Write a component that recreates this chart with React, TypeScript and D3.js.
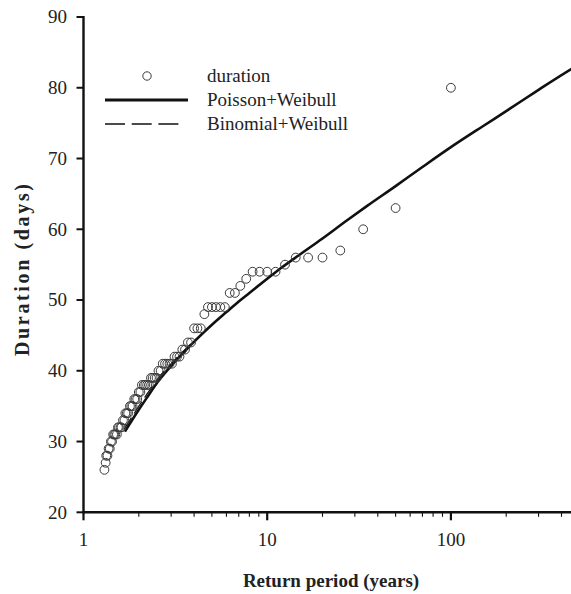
import * as d3 from 'd3'

const WIDTH = 571
const HEIGHT = 594
const FONT = '"Liberation Serif", "Times New Roman", serif'

// Weibull plotting positions (years) and observed durations (days), largest first
const returnPeriods = [
  100, 50, 33.3, 25, 20, 16.7, 14.3, 12.5, 11.1, 10, 9.09, 8.33, 7.69, 7.14, 6.67, 6.25,
  5.88, 5.56, 5.26, 5, 4.76, 4.55, 4.35, 4.17, 4, 3.85, 3.7, 3.57, 3.45, 3.33, 3.23, 3.13,
  3.03, 2.94, 2.86, 2.78, 2.7, 2.63, 2.56, 2.5, 2.44, 2.38, 2.33, 2.27, 2.22, 2.17, 2.13,
  2.08, 2.04, 2, 1.96, 1.92, 1.89, 1.85, 1.82, 1.79, 1.75, 1.72, 1.69, 1.67, 1.64, 1.61,
  1.59, 1.56, 1.54, 1.52, 1.49, 1.47, 1.45, 1.43, 1.41, 1.39, 1.37, 1.35, 1.33, 1.32, 1.3,
]
const durations = [
  80, 63, 60, 57, 56, 56, 56, 55, 54, 54, 54, 54, 53, 52, 51, 51,
  49, 49, 49, 49, 49, 48, 46, 46, 46, 44, 44, 43, 43, 42, 42, 42,
  41, 41, 41, 41, 41, 40, 40, 39, 39, 39, 39, 38, 38, 38, 38,
  38, 37, 37, 36, 36, 36, 35, 35, 35, 34, 34, 34, 33, 33, 32,
  32, 32, 32, 31, 31, 31, 31, 30, 30, 29, 29, 28, 28, 27, 26,
]

// fitted curves
const poissonT = [1.68, 1.9, 2.2, 2.6, 3, 3.6, 4.3, 5, 6, 7, 8, 10, 12, 15, 20, 27, 35, 50, 70, 100, 150, 200, 300, 450, 500]
const poissonD = [31.4, 33.6, 36.1, 38.8, 40.7, 42.9, 44.9, 46.5, 48.3, 49.8, 51.0, 53.0, 54.6, 56.4, 58.7, 61.2, 63.3, 66.1, 68.8, 71.6, 74.6, 76.7, 79.7, 82.6, 83.3]
const binomialT = [1.66, 1.9, 2.2, 2.6, 3, 3.6, 4.3, 5, 6, 7, 8, 10, 12, 15, 20, 27, 35, 50, 70, 100, 150, 200, 300, 450, 500]
const binomialD = [31.7, 34.1, 36.6, 39.2, 41.0, 43.1, 45.0, 46.5, 48.3, 49.8, 51.0, 53.0, 54.6, 56.4, 58.7, 61.2, 63.3, 66.1, 68.8, 71.6, 74.6, 76.7, 79.7, 82.6, 83.3]

const yTicks = [20, 30, 40, 50, 60, 70, 80, 90]
const xLabels = [1, 10, 100]

const X0 = 83.5
const DECADE = 183.7

export default function App() {
  const x = d3.scaleLog().domain([1, 500]).range([X0, X0 + DECADE * Math.log10(500)])
  const y = d3.scaleLinear().domain([20, 90]).range([512.3, 17])

  const line = d3
    .line<[number, number]>()
    .x(d => x(d[0]))
    .y(d => y(d[1]))
    .curve(d3.curveMonotoneX)

  const poisson = poissonT.map((t, i) => [t, poissonD[i]] as [number, number])
  const binomial = binomialT.map((t, i) => [t, binomialD[i]] as [number, number])

  const xTicks = x.ticks()
  const y0 = y(20)

  return (
    <svg
      width={WIDTH}
      height={HEIGHT}
      style={{position: 'absolute', left: 0, top: 0, background: '#fff'}}
      fontFamily={FONT}>
      {/* curves */}
      <path d={line(binomial) || ''} fill="none" stroke="#111" strokeWidth={1.2} strokeDasharray="14,5" />
      <path d={line(poisson) || ''} fill="none" stroke="#111" strokeWidth={2.6} />

      {/* observed points */}
      {returnPeriods.map((t, i) => (
        <circle key={i} cx={x(t)} cy={y(durations[i])} r={4.4} fill="none" stroke="#3a3a3a" strokeWidth={1} />
      ))}

      {/* y axis */}
      <line x1={X0} x2={X0} y1={y(90) - 1} y2={y0 + 1} stroke="#111" strokeWidth={2.4} />
      {yTicks.map(v => (
        <g key={v}>
          <line x1={X0 - 7} x2={X0} y1={y(v)} y2={y(v)} stroke="#111" strokeWidth={2} />
          <text x={67} y={y(v)} dy="0.34em" textAnchor="end" fontSize={19} fill="#222">
            {v}
          </text>
        </g>
      ))}

      {/* x axis */}
      <line x1={X0 - 1} x2={WIDTH} y1={y0} y2={y0} stroke="#111" strokeWidth={2.4} />
      {xTicks.map((t, i) => {
        const major = xLabels.includes(t)
        return (
          <line
            key={i}
            x1={x(t)}
            x2={x(t)}
            y1={y0}
            y2={y0 + (major ? 8 : 4.5)}
            stroke="#111"
            strokeWidth={major ? 2.2 : 1.1}
          />
        )
      })}
      {xLabels.map(t => (
        <text key={t} x={x(t)} y={546} textAnchor="middle" fontSize={19} fill="#222">
          {t}
        </text>
      ))}

      {/* axis titles */}
      <text x={331} y={587} textAnchor="middle" fontSize={19} fontWeight="bold" fill="#222">
        Return period (years)
      </text>
      <text
        transform={`translate(29,${270}) rotate(-90)`}
        textAnchor="middle"
        fontSize={20}
        fontWeight="bold"
        textLength={172}
        lengthAdjust="spacing"
        fill="#222">
        Duration (days)
      </text>

      {/* legend */}
      <circle cx={147} cy={76} r={4.2} fill="none" stroke="#3a3a3a" strokeWidth={1} />
      <text x={207} y={82} fontSize={19} fill="#222">duration</text>
      <line x1={105} x2={188} y1={100} y2={100} stroke="#111" strokeWidth={2.8} />
      <text x={207} y={106} fontSize={19} fill="#222">Poisson+Weibull</text>
      <line x1={105} x2={180} y1={124} y2={124} stroke="#111" strokeWidth={1.5} strokeDasharray="20,6.7" />
      <text x={207} y={130} fontSize={19} fill="#222">Binomial+Weibull</text>
    </svg>
  )
}
